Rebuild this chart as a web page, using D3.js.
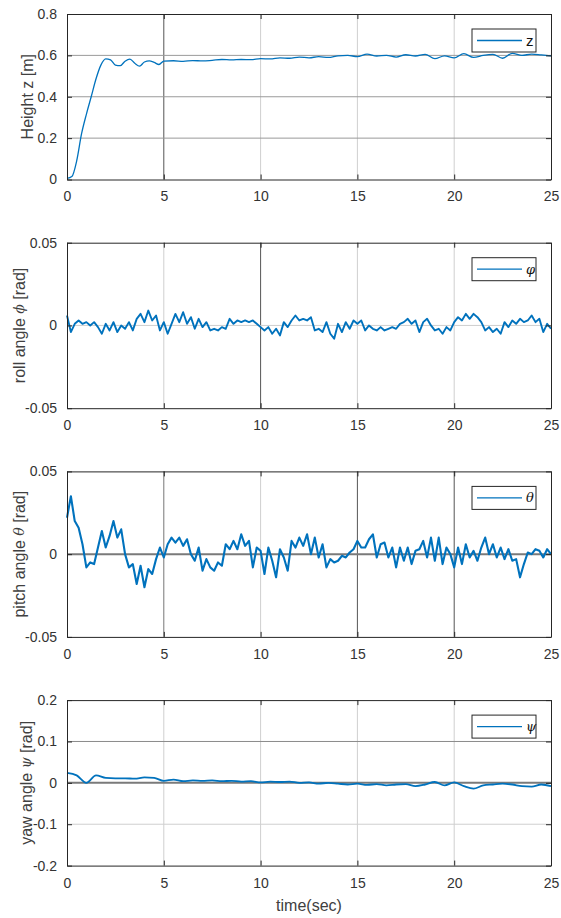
<!DOCTYPE html>
<html>
<head>
<meta charset="utf-8">
<script src="https://cdn.jsdelivr.net/npm/d3@7"></script>
<style>
  body { margin: 0; background: #fff; }
  svg { display: block; font-family: "Liberation Sans", Arial, sans-serif; }
</style>
</head>
<body>
<div id="chart"></div>
<script>
// Height z [m], sampled unevenly (time in sec, value)
const zTime = [0, 0.25, 0.5, 0.75, 1, 1.25, 1.5, 1.75, 2, 2.25, 2.5, 2.75, 3, 3.25, 3.5, 3.75, 4, 4.25, 4.5, 4.75,
  5, 5.5, 6, 6.5, 7, 7.5, 8, 8.5, 9, 9.5, 10, 10.5, 11, 11.5, 12, 12.5, 13, 13.5, 14, 14.5,
  15, 15.5, 16, 16.5, 17, 17.5, 18, 18.5, 19, 19.5, 20, 20.5, 21, 21.5, 22, 22.5, 23, 23.5, 24, 24.5, 25];
const zValue = [0.005, 0.014, 0.09, 0.22, 0.315, 0.40, 0.487, 0.553, 0.583, 0.578, 0.553, 0.55, 0.572, 0.582, 0.562, 0.548, 0.568, 0.573, 0.566, 0.556,
  0.572, 0.574, 0.571, 0.575, 0.573, 0.576, 0.58, 0.578, 0.58, 0.579, 0.584, 0.583, 0.588, 0.586, 0.592, 0.588, 0.594, 0.59, 0.598, 0.6,
  0.594, 0.606, 0.597, 0.6, 0.592, 0.603, 0.597, 0.605, 0.584, 0.598, 0.588, 0.608, 0.59, 0.6, 0.605, 0.586, 0.61, 0.6, 0.606, 0.602, 0.598];

// roll / pitch sampled every 0.2 s
const rollStep = 0.2;
const rollValue = [
  0.006, -0.004, 0.001, 0.003, 0.001,
  0.002, 0.0, 0.002, -0.001, -0.005,
  0.001, -0.003, 0.002, -0.004, 0.0,
  -0.002, 0.002, -0.003, 0.004, 0.007,
  0.002, 0.009, 0.003, 0.006, -0.003,
  0.002, -0.005, 0.001, 0.007, 0.002,
  0.008, 0.001, 0.005, -0.002, 0.004,
  -0.001, 0.002, -0.003, -0.002, -0.003,
  -0.001, -0.002, 0.004, 0.001, 0.003,
  0.002, 0.003, 0.002, 0.003, 0.001,
  -0.001, -0.003, -0.001, -0.005, -0.002,
  -0.006, 0.002, -0.001, 0.003, 0.006,
  0.003, 0.004, 0.003, 0.005, -0.003,
  -0.002, -0.004, 0.002, -0.005, -0.008,
  0.001, -0.004, 0.002, -0.002, 0.003,
  0.001, 0.003, -0.003, 0.0, -0.002,
  -0.003, -0.001, -0.003, -0.002, -0.001,
  -0.002, 0.001, 0.002, 0.004, 0.001,
  0.003, -0.004, 0.002, 0.004, 0.0,
  -0.003, -0.002, -0.005, -0.001, -0.003,
  0.002, 0.005, 0.003, 0.007, 0.004,
  0.007, 0.005, 0.002, -0.003, -0.001,
  -0.004, -0.002, -0.005, 0.002, -0.001,
  0.003, 0.001, 0.004, 0.002, 0.003,
  0.006, 0.002, 0.004, -0.004, 0.001,
  -0.002];

const pitchStep = 0.2;
const pitchValue = [
  0.022, 0.035, 0.02, 0.016, 0.006,
  -0.008, -0.005, -0.006, 0.004, 0.014,
  0.004, 0.011, 0.02, 0.01, 0.015,
  0.0, -0.008, -0.006, -0.018, -0.007,
  -0.02, -0.009, -0.012, -0.003, 0.004,
  -0.002, 0.006, 0.010, 0.007, 0.010,
  0.005, 0.009, 0.0, -0.004, 0.004,
  -0.01, -0.003, -0.008, -0.01, -0.005,
  -0.007, 0.006, 0.003, 0.008, 0.003,
  0.012, 0.005, 0.008, -0.008, 0.004,
  0.002, -0.012, 0.004, -0.004, -0.014,
  0.003, -0.002, -0.01, 0.008, 0.004,
  0.01, 0.005, 0.012, 0.0, 0.01,
  -0.002, 0.006, -0.008, -0.003, -0.005,
  -0.004, -0.001, -0.002, 0.001, 0.003,
  0.008, 0.004, 0.004, 0.009, 0.012,
  -0.002, 0.006, 0.007, -0.002, 0.004,
  -0.008, 0.004, -0.004, 0.004, -0.006,
  0.002, 0.003, 0.008, -0.002, 0.010,
  -0.004, 0.010, -0.006, 0.004, 0.0,
  -0.008, 0.004, -0.006, 0.006, -0.002,
  0.002, -0.004, 0.004, 0.010, 0.0,
  0.006, -0.002, 0.004, -0.003, 0.003,
  -0.004, -0.003, -0.014, -0.006, 0.001,
  0.0, 0.003, 0.002, -0.002, 0.003,
  0.0];

// yaw sampled every 0.5 s
const yawStep = 0.5;
const yawValue = [
  0.024, 0.018, 0.0, 0.018, 0.012,
  0.011, 0.011, 0.01, 0.013, 0.012,
  0.005, 0.008, 0.004, 0.006, 0.005,
  0.006, 0.004, 0.005, 0.003, 0.004,
  0.001, 0.003, 0.002, 0.003, 0.0,
  0.001, -0.002, 0.0, -0.002, -0.004,
  -0.002, -0.005, -0.003, -0.006, -0.004,
  -0.003, -0.008, -0.004, 0.002, -0.006,
  0.001, -0.008, -0.014, -0.006, -0.004,
  -0.002, -0.004, -0.008, -0.009, -0.004,
  -0.008];

const xTicks = [0, 5, 10, 15, 20, 25];

const panels = [
  { label: ["Height z [m]"], legend: "z", legendItalic: false,
    points: zTime.map((t, i) => [t, zValue[i]]), curve: d3.curveMonotoneX, width: 1.3,
    yDomain: [0, 0.8], yTicks: [0, 0.2, 0.4, 0.6, 0.8], yFmt: d => d === 0 ? "0" : d.toFixed(1),
    darkX: { 5: "#555" }, darkY: { 0.2: "#9a9a9a", 0.4: "#9a9a9a", 0.6: "#9a9a9a" }, labelX: 27 },
  { label: ["roll angle ", "\u03d5", " [rad]"], legend: "\u03c6", legendItalic: true,
    points: rollValue.map((v, i) => [i * rollStep, v]), curve: d3.curveLinear, width: 1.9,
    yDomain: [-0.05, 0.05], yTicks: [-0.05, 0, 0.05], yFmt: d => d === 0 ? "0" : d.toFixed(2),
    darkX: { 10: "#555" }, darkY: {}, labelX: 19 },
  { label: ["pitch angle ", "\u03b8", " [rad]"], legend: "\u03b8", legendItalic: true,
    points: pitchValue.map((v, i) => [i * pitchStep, v]), curve: d3.curveLinear, width: 2.1,
    yDomain: [-0.05, 0.05], yTicks: [-0.05, 0, 0.05], yFmt: d => d === 0 ? "0" : d.toFixed(2),
    darkX: { 5: "#777", 15: "#555", 20: "#555" }, darkY: { 0: "#7a7a7a" }, labelX: 19 },
  { label: ["yaw angle ", "\u03c8", " [rad]"], legend: "\u03c8", legendItalic: true,
    points: yawValue.map((v, i) => [i * yawStep, v]), curve: d3.curveMonotoneX, width: 1.8,
    yDomain: [-0.2, 0.2], yTicks: [-0.2, -0.1, 0, 0.1, 0.2], yFmt: d => d === 0 ? "0" : d.toFixed(1),
    darkX: {}, darkY: { 0.1: "#8a8a8a", 0: "#7a7a7a" }, labelX: 26 }
];

const W = 561, H = 918;
const left = 67, right = 551;
const firstTop = 14, panelH = 165.5, pitch = 228.7;
const axisColor = "#262626", lineColor = "#0072BD";

const svg = d3.select("#chart").append("svg")
  .attr("width", W).attr("height", H);

const x = d3.scaleLinear().domain([0, 25]).range([left, right]);

panels.forEach((p, i) => {
  const top = firstTop + i * pitch;
  const bottom = top + panelH;
  const y = d3.scaleLinear().domain(p.yDomain).range([bottom, top]);
  const g = svg.append("g");

  // grid
  g.selectAll(".gx").data(xTicks.slice(1, -1)).enter().append("line")
    .attr("x1", d => x(d)).attr("x2", d => x(d))
    .attr("y1", top).attr("y2", bottom)
    .attr("stroke", d => p.darkX[d] || "#cfcfcf").attr("stroke-width", 1);
  g.selectAll(".gy").data(p.yTicks.slice(1, -1)).enter().append("line")
    .attr("x1", left).attr("x2", right)
    .attr("y1", d => y(d)).attr("y2", d => y(d))
    .attr("stroke", d => p.darkY[d] || "#cfcfcf")
    .attr("stroke-width", d => (d === 0 && p.darkY[d]) ? 2 : 1);

  // data line
  g.append("path")
    .datum(p.points)
    .attr("fill", "none")
    .attr("stroke", lineColor)
    .attr("stroke-width", p.width)
    .attr("stroke-linejoin", "round")
    .attr("d", d3.line().x(d => x(d[0])).y(d => y(d[1])).curve(p.curve));

  // axes: inward ticks on all four sides
  g.append("g").attr("transform", `translate(0,${bottom})`)
    .call(d3.axisBottom(x).tickValues(xTicks).tickSizeInner(-5).tickSizeOuter(0).tickPadding(12).tickFormat(d3.format("d")));
  g.append("g").attr("transform", `translate(0,${top})`)
    .call(d3.axisTop(x).tickValues(xTicks).tickSizeInner(-5).tickSizeOuter(0).tickFormat(""));
  g.append("g").attr("transform", `translate(${left},0)`)
    .call(d3.axisLeft(y).tickValues(p.yTicks).tickSizeInner(-5).tickSizeOuter(0).tickPadding(10).tickFormat(p.yFmt));
  g.append("g").attr("transform", `translate(${right},0)`)
    .call(d3.axisRight(y).tickValues(p.yTicks).tickSizeInner(-5).tickSizeOuter(0).tickFormat(""));

  g.selectAll(".domain").attr("stroke", axisColor);
  g.selectAll(".tick line").attr("stroke", axisColor);
  g.selectAll(".tick text").attr("fill", "#333").attr("font-size", 14)
    .attr("font-family", "Liberation Sans, Arial, sans-serif");

  // y label, greek symbol in italics
  const lab = g.append("text")
    .attr("transform", `translate(${p.labelX},${(top + bottom) / 2}) rotate(-90)`)
    .attr("text-anchor", "middle")
    .attr("dominant-baseline", "central")
    .attr("fill", "#404040")
    .attr("font-size", 16);
  p.label.forEach((part, k) => {
    lab.append("tspan")
      .attr("font-style", k === 1 ? "italic" : "normal")
      .attr("font-family", k === 1 ? "DejaVu Serif, serif" : null)
      .attr("font-size", k === 1 ? 14 : null)
      .text(part);
  });

  // legend
  const lx = 472, ly = top + 15, lw = 64, lh = 23;
  g.append("rect")
    .attr("x", lx).attr("y", ly).attr("width", lw).attr("height", lh)
    .attr("fill", "#fff").attr("stroke", axisColor).attr("stroke-width", 1);
  g.append("line")
    .attr("x1", lx + 5).attr("x2", lx + 50)
    .attr("y1", ly + lh / 2).attr("y2", ly + lh / 2)
    .attr("stroke", lineColor).attr("stroke-width", 1.3);
  g.append("text")
    .attr("x", lx + 54).attr("y", ly + lh / 2)
    .attr("dominant-baseline", "central")
    .attr("font-size", p.legendItalic ? 13 : 15)
    .attr("font-style", p.legendItalic ? "italic" : "normal")
    .attr("font-family", p.legendItalic ? "DejaVu Serif, serif" : "Liberation Sans, Arial, sans-serif")
    .attr("fill", "#111")
    .text(p.legend);
});

// x label
svg.append("text")
  .attr("x", (left + right) / 2).attr("y", 905)
  .attr("text-anchor", "middle")
  .attr("dominant-baseline", "central")
  .attr("fill", "#404040")
  .attr("font-size", 16)
  .text("time(sec)");
</script>
</body>
</html>
